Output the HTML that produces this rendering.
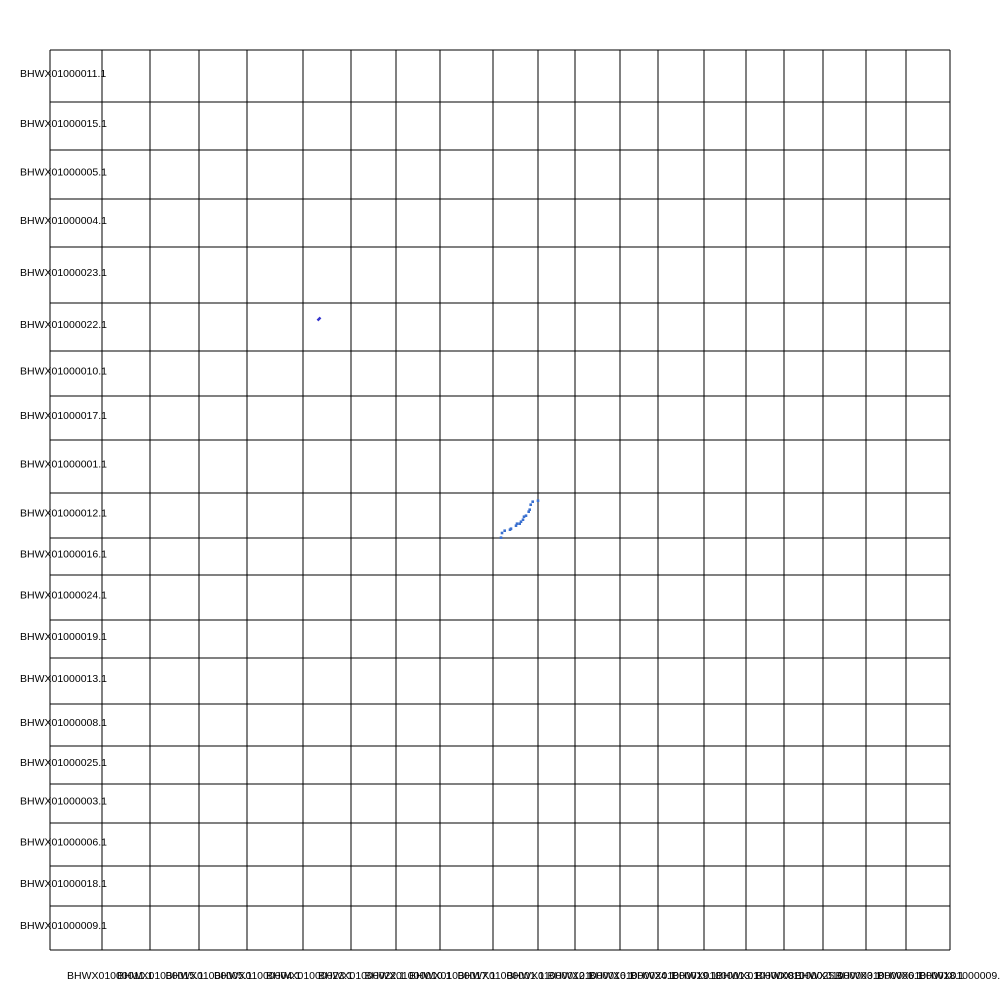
<!DOCTYPE html>
<html><head><meta charset="utf-8"><style>
html,body{margin:0;padding:0;background:#fff;width:1000px;height:1000px;overflow:hidden}
text{font-family:"Liberation Sans",sans-serif;font-size:10.5px;fill:#000}
</style></head><body>
<svg id="chart" width="1000" height="1000" xmlns="http://www.w3.org/2000/svg"></svg>
<script>
const seqNames = ["BHWX01000011.1","BHWX01000015.1","BHWX01000005.1","BHWX01000004.1","BHWX01000023.1","BHWX01000022.1","BHWX01000010.1","BHWX01000017.1","BHWX01000001.1","BHWX01000012.1","BHWX01000016.1","BHWX01000024.1","BHWX01000019.1","BHWX01000013.1","BHWX01000008.1","BHWX01000025.1","BHWX01000003.1","BHWX01000006.1","BHWX01000018.1","BHWX01000009.1"];
const seqLengths = [52,48,49,48,56,48,45,44,53,45,37,45,38,46,42,38,39,43,40,44];
const matchX = [451,452,454.7,460,461,466,467,469.7,471,473,474,476,478.7,479.7,480.7,482.7,488];
const matchY = [487.7,483,480.7,479.7,478.7,475.7,473.7,473.7,471.7,469.7,466.7,465.7,461.7,459.7,454.7,451.7,450.7];
const dotX = [269];
const dotY = [269];

const NS = "http://www.w3.org/2000/svg";
const svg = document.getElementById("chart");
const total = seqLengths.reduce((a,b)=>a+b,0);
const L = 50, T = 50, W = 900, H = 900;
const sx = v => L + v / total * W;
const sy = v => T + v / total * H;
const offsets = [0];
seqLengths.forEach((l,i)=>offsets.push(offsets[i]+l));

function mk(tag, attrs){ const e=document.createElementNS(NS,tag); for(const k in attrs) e.setAttribute(k,attrs[k]); svg.appendChild(e); return e; }

offsets.forEach((o,i)=>{
  const v = mk("line",{x1:sx(o),x2:sx(o),y1:T,y2:T+H,stroke:"#000","stroke-width":1,"shape-rendering":"crispEdges"});
  
  
  const h = mk("line",{x1:L,x2:L+W,y1:sy(o),y2:sy(o),stroke:"#000","stroke-width":1,"shape-rendering":"crispEdges"});
  
  
});

seqNames.forEach((n,i)=>{
  const c = offsets[i] + seqLengths[i]/2;
  const yl = mk("text",{x:20,y:sy(c)+1});
  yl.textContent = n;
  
  
  const xl = mk("text",{x:sx(c)-9,y:979});
  xl.textContent = n;
  
  
});

matchX.forEach((x,i)=>{
  const r = mk("rect",{x:sx(x)-1.3,y:sy(matchY[i])-1.3,width:2.6,height:2.6,fill:"#3a70d0"});
  
  
});
dotX.forEach((x,i)=>{
  const r = mk("line",{x1:sx(x)-1.5,y1:sy(dotY[i])+1.5,x2:sx(x)+1.5,y2:sy(dotY[i])-1.5,stroke:"#3333cc","stroke-width":2.5});
  
  
});
</script>
</body></html>
